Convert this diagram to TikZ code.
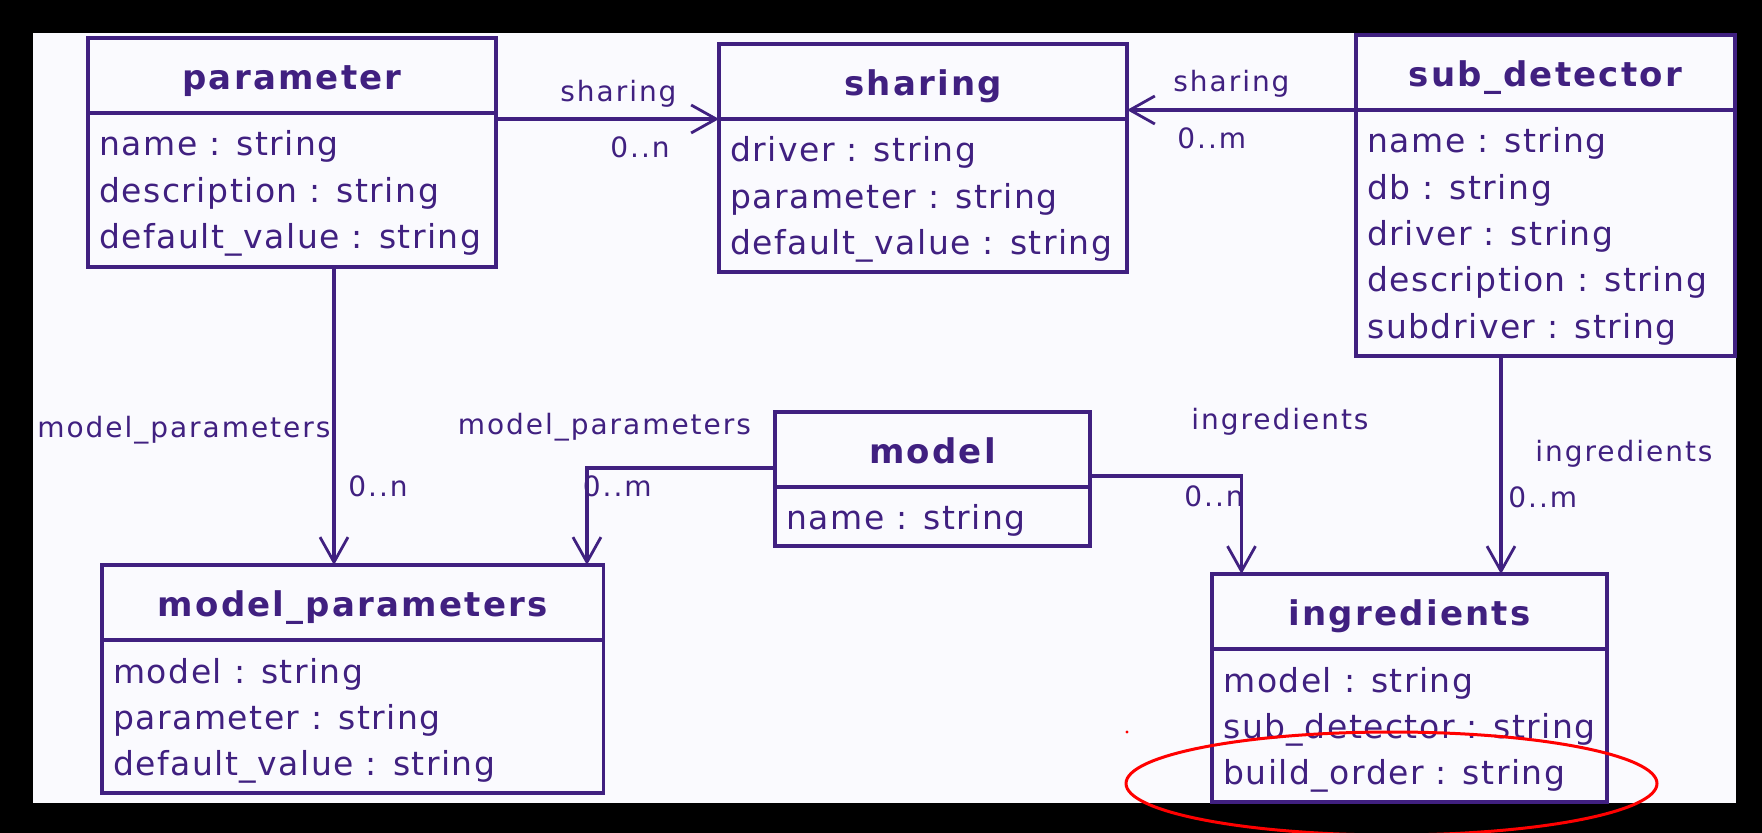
\documentclass[tikz,border=0pt]{standalone}
\usepackage{fontspec}
\setmainfont{DejaVu Sans}
\newfontfamily\attrfont{DejaVu Sans}[LetterSpace=4.5]
\newfontfamily\lblfont{DejaVu Sans}[LetterSpace=7]
\newfontfamily\titlefont{DejaVu Sans}[LetterSpace=6.5]
\usetikzlibrary{arrows.meta,fit}

\definecolor{umlpurple}{RGB}{64,32,128}
\definecolor{canvas}{RGB}{250,250,254}
\definecolor{markred}{RGB}{255,0,0}

\tikzset{
  box/.style={draw=umlpurple, line width=1.8pt, inner sep=0pt, outer sep=0pt},
  hdr/.style={box},
  title/.style={text=umlpurple, inner sep=0pt, anchor=base,
    font=\titlefont\bfseries\fontsize{17}{20}\selectfont},
  attr/.style={text=umlpurple, inner sep=0pt, anchor=base west,
    font=\attrfont\fontsize{16.5}{20}\selectfont},
  lbl/.style={text=umlpurple, inner sep=0pt, anchor=base west,
    font=\lblfont\fontsize{14}{17}\selectfont},
  assoc/.style={draw=umlpurple, line width=1.8pt,
    -{Straight Barb[length=12.5pt,width=14pt,line width=1.4pt]}},
}

% class box: name, left, top, right, bottom, header bottom, title, attributes
\newcommand\umlclass[8]{%
  \node[box, fit={(#2,#3)(#4,#5)}] (#1) {};
  \node[hdr, fit={(#2,#3)(#4,#6)}] (#1H) {};
  \node[title] (#1T) at ([yshift=11.5pt]#1H.south) {#7};
  \foreach \attrtext [count=\i] in {#8}
    \node[attr] (#1A\i) at ([xshift=5.5pt,yshift={-21.5pt-(\i-1)*23.15pt}]#1H.south west) {\attrtext};
}

\begin{document}
\begin{tikzpicture}[x=0.5pt,y=-0.5pt]
\useasboundingbox (0,0) rectangle (1762,833);
\fill[black] (0,0) rectangle (1762,833);
\fill[canvas] (33,33) rectangle (1736,803);

% classes
\umlclass{param}{88}{38}{496}{267}{113}{parameter}%
  {name : string, description : string, default\_value : string}
\umlclass{sharing}{719}{44}{1127}{272}{119}{sharing}%
  {driver : string, parameter : string, default\_value : string}
\umlclass{sub}{1356}{35}{1735}{356}{110}{sub\_detector}%
  {name : string, db : string, driver : string, description : string, subdriver : string}
\umlclass{model}{775}{412}{1090}{546}{487}{model}%
  {name : string}
\umlclass{mp}{102}{565}{603.5}{793}{640}{model\_parameters}%
  {model : string, parameter : string, default\_value : string}
\umlclass{ingr}{1212}{574}{1607}{802}{649}{ingredients}%
  {model : string, sub\_detector : string, build\_order : string}

% associations
\draw[assoc] (param.east |- sharingH.south) -- (sharingH.south west);
\draw[assoc] (subH.south west) -- (sharing.east |- subH.south);
\draw[assoc] ([xshift=21pt]param.south) -- ([xshift=21pt]param.south |- mp.north);
\draw[assoc] ([yshift=5.5pt]model.west) -| ([xshift=117.1pt]mp.north);
\draw[assoc] ([yshift=1.5pt]model.east) -| ([xshift=-84pt]ingr.north);
\draw[assoc] ([xshift=-22.25pt]sub.south) -- ([xshift=-22.25pt]sub.south |- ingr.north);

% role names and multiplicities
\node[lbl] (rShareA) at (560,102) {sharing};
\node[lbl] (mShareA) at (610,158) {0..n};
\node[lbl] (rShareB) at (1173,92) {sharing};
\node[lbl] (mShareB) at (1177,149) {0..m};
\node[lbl] (rMpA) at (37,438) {model\_parameters};
\node[lbl] (mMpA) at (348,497) {0..n};
\node[lbl] (rMpB) at (457.5,435) {model\_parameters};
\node[lbl] (mMpB) at (582.5,497) {0..m};
\node[lbl] (rIngA) at (1191,430) {ingredients};
\node[lbl] (mIngA) at (1184,507) {0..n};
\node[lbl] (rIngB) at (1535,461.5) {ingredients};
\node[lbl] (mIngB) at (1508,508) {0..m};

% hand-drawn highlight
\draw[markred, line width=1.5pt] (1391.5,783.5) ellipse [x radius=132.75pt, y radius=25.75pt];
\fill[markred] (1127,732) circle [radius=0.8pt];
\end{tikzpicture}
\end{document}
